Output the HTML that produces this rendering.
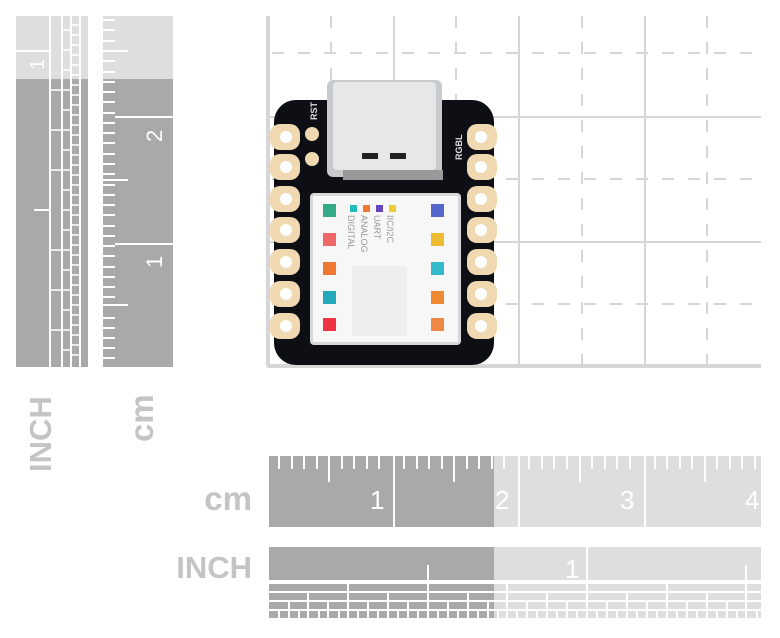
<!DOCTYPE html>
<html><head><meta charset="utf-8"><style>
html,body{margin:0;padding:0;background:#fff;width:780px;height:638px;overflow:hidden}
svg{display:block}
text{font-family:"Liberation Sans",sans-serif}
</style></head><body>
<svg width="780" height="638" viewBox="0 0 780 638" xmlns="http://www.w3.org/2000/svg">
<!-- grid -->
<g stroke="#d6d6d6" stroke-width="2" fill="none">
<line x1="394" y1="16" x2="394" y2="365"/><line x1="519" y1="16" x2="519" y2="365"/><line x1="645" y1="16" x2="645" y2="365"/>
<line x1="267" y1="117" x2="761" y2="117"/><line x1="267" y1="242" x2="761" y2="242"/>
<g stroke-dasharray="12,14">
<line x1="331" y1="16" x2="331" y2="365"/><line x1="456" y1="16" x2="456" y2="365"/><line x1="582" y1="16" x2="582" y2="365"/><line x1="707" y1="16" x2="707" y2="365"/>
<line x1="272" y1="53" x2="761" y2="53"/><line x1="272" y1="179" x2="761" y2="179"/><line x1="272" y1="304" x2="761" y2="304"/>
</g>
<line x1="268" y1="16" x2="268" y2="366" stroke-width="4"/>
<line x1="267" y1="366" x2="761" y2="366" stroke-width="4"/>
</g>
<!-- board -->
<rect x="274" y="100" width="220" height="265" rx="22" fill="#0d0f14"/>
<g fill="#f0d8b0">
<rect x="270" y="124" width="30" height="26" rx="10"/>
<rect x="270" y="154" width="30" height="26" rx="10"/><rect x="270" y="186" width="30" height="26" rx="10"/>
<rect x="270" y="217" width="30" height="26" rx="10"/><rect x="270" y="249" width="30" height="26" rx="10"/>
<rect x="270" y="281" width="30" height="26" rx="10"/><rect x="270" y="313" width="30" height="26" rx="10"/>
<rect x="467" y="124" width="30" height="26" rx="10"/><rect x="467" y="154" width="30" height="26" rx="10"/>
<rect x="467" y="186" width="30" height="26" rx="10"/><rect x="467" y="217" width="30" height="26" rx="10"/>
<rect x="467" y="249" width="30" height="26" rx="10"/><rect x="467" y="281" width="30" height="26" rx="10"/>
<rect x="467" y="313" width="30" height="26" rx="10"/>
<circle cx="312" cy="134" r="7"/><circle cx="312" cy="159" r="7"/>
</g>
<g fill="#fff">
<circle cx="286" cy="137" r="6"/><circle cx="286" cy="167" r="6"/><circle cx="286" cy="199" r="6"/><circle cx="286" cy="230" r="6"/><circle cx="286" cy="262" r="6"/><circle cx="286" cy="294" r="6"/><circle cx="286" cy="326" r="6"/>
<circle cx="481" cy="137" r="6"/><circle cx="481" cy="167" r="6"/><circle cx="481" cy="199" r="6"/><circle cx="481" cy="230" r="6"/><circle cx="481" cy="262" r="6"/><circle cx="481" cy="294" r="6"/><circle cx="481" cy="326" r="6"/>
</g>
<text transform="translate(317,120) rotate(-90)" font-size="9" fill="#ddd" font-weight="bold">RST</text>
<text transform="translate(462,160) rotate(-90)" font-size="9" fill="#ddd" font-weight="bold">RGBL</text>
<!-- usb -->
<rect x="327" y="80" width="115" height="97" rx="6" fill="#c8cacc"/>
<rect x="333" y="82" width="103" height="88" rx="4" fill="#e6e7e8"/>
<rect x="362" y="153" width="16" height="6" fill="#222"/><rect x="390" y="153" width="16" height="6" fill="#222"/>
<rect x="343" y="170" width="100" height="10" fill="#999"/>
<!-- shield -->
<rect x="310" y="193" width="151" height="152" rx="4" fill="#d8d8d8"/>
<rect x="313" y="196" width="145" height="146" fill="#f7f7f7"/>
<rect x="323" y="204" width="13" height="13" fill="#3a8"/><rect x="323" y="233" width="13" height="13" fill="#e66"/>
<rect x="323" y="262" width="13" height="13" fill="#e73"/><rect x="323" y="291" width="13" height="13" fill="#2ab"/>
<rect x="323" y="318" width="13" height="13" fill="#e34"/>
<rect x="431" y="204" width="13" height="13" fill="#56c"/><rect x="431" y="233" width="13" height="13" fill="#eb3"/>
<rect x="431" y="262" width="13" height="13" fill="#3bc"/><rect x="431" y="291" width="13" height="13" fill="#e83"/>
<rect x="431" y="318" width="13" height="13" fill="#e84"/>
<rect x="350" y="205" width="7" height="7" fill="#2bb"/><rect x="363" y="205" width="7" height="7" fill="#e73"/>
<rect x="376" y="205" width="7" height="7" fill="#64b"/><rect x="389" y="205" width="7" height="7" fill="#ec3"/>
<g font-size="9" fill="#999">
<text transform="translate(348,215) rotate(90)">DIGITAL</text>
<text transform="translate(361,215) rotate(90)">ANALOG</text>
<text transform="translate(374,215) rotate(90)">UART</text>
<text transform="translate(387,215) rotate(90)">IIC/I2C</text>
</g>
<rect x="352" y="266" width="55" height="70" fill="#eee"/>
<!-- left rulers -->
<rect x="16" y="16" width="72" height="64" fill="#dedede"/><rect x="16" y="79" width="72" height="288" fill="#a9a9a9"/>
<g stroke="#fff" stroke-width="2">
<line x1="50" y1="16" x2="50" y2="367"/><line x1="62" y1="16" x2="62" y2="367"/><line x1="71" y1="16" x2="71" y2="367"/><line x1="80" y1="16" x2="80" y2="367"/>
<line x1="16" y1="51" x2="50" y2="51"/><line x1="34" y1="210" x2="50" y2="210"/>
</g>
<g stroke="#fff" stroke-width="1.5">
<path d="M50 90H62M50 130H62M50 170H62M50 250H62M50 290H62M50 330H62"/>
<path d="M62 30H71M62 50H71M62 70H71M62 90H71M62 110H71M62 130H71M62 150H71M62 170H71M62 190H71M62 210H71M62 230H71M62 250H71M62 270H71M62 290H71M62 310H71M62 330H71M62 350H71"/>
<path d="M71 25H80M71 35H80M71 45H80M71 55H80M71 65H80M71 75H80M71 85H80M71 95H80M71 105H80M71 115H80M71 125H80M71 135H80M71 145H80M71 155H80M71 165H80M71 175H80M71 185H80M71 195H80M71 205H80M71 215H80M71 225H80M71 235H80M71 245H80M71 255H80M71 265H80M71 275H80M71 285H80M71 295H80M71 305H80M71 315H80M71 325H80M71 335H80M71 345H80M71 355H80"/>
</g>
<text transform="translate(44,70) rotate(-90)" font-size="20" fill="#fff">1</text>
<rect x="103" y="16" width="70" height="64" fill="#dedede"/><rect x="103" y="79" width="70" height="288" fill="#a9a9a9"/>
<g stroke="#fff" stroke-width="2">
<path d="M103 20H115M103 30H115M103 41H115M103 51H128M103 61H115M103 72H115M103 82H115M103 92H115M103 102H115M103 113H115M103 123H115M103 133H115M103 143H115M103 154H115M103 164H115M103 174H115M103 180H128M103 185H115M103 195H115M103 205H115M103 215H115M103 226H115M103 236H115M103 246H115M103 256H115M103 267H115M103 277H115M103 287H115M103 297H115M103 305H128M103 318H115M103 328H115M103 338H115M103 348H115M103 358H115"/>
<path d="M115 117H173M115 244H173"/>
</g>
<text transform="translate(162,142) rotate(-90)" font-size="22" fill="#fff">2</text>
<text transform="translate(162,268) rotate(-90)" font-size="22" fill="#fff">1</text>
<text transform="translate(51,472) rotate(-90)" font-size="31" font-weight="bold" fill="#c4c4c4">INCH</text>
<text transform="translate(153,442) rotate(-90)" font-size="33" font-weight="bold" fill="#c4c4c4">cm</text>
<!-- bottom cm ruler -->
<rect x="269" y="456" width="225" height="71" fill="#a9a9a9"/><rect x="494" y="456" width="267" height="71" fill="#dedede"/>
<g stroke="#fff" stroke-width="2">
<line x1="394" y1="456" x2="394" y2="527"/><line x1="519" y1="456" x2="519" y2="527"/><line x1="645" y1="456" x2="645" y2="527"/>
<path d="M279 456V469M292 456V469M304 456V469M317 456V469M329 456V482M342 456V469M354 456V469M367 456V469M379 456V469M404 456V469M417 456V469M429 456V469M442 456V469M454 456V482M467 456V469M479 456V469M492 456V469M504 456V469M529 456V469M542 456V469M554 456V469M567 456V469M580 456V482M592 456V469M605 456V469M617 456V469M630 456V469M655 456V469M667 456V469M680 456V469M692 456V469M705 456V482M717 456V469M730 456V469M742 456V469M755 456V469"/>
</g>
<g font-size="26" fill="#fff">
<text x="370" y="509">1</text><text x="495" y="509">2</text><text x="620" y="509">3</text><text x="745" y="509">4</text>
</g>
<text x="252" y="510" font-size="33" font-weight="bold" fill="#c4c4c4" text-anchor="end">cm</text>
<text x="252" y="578" font-size="31" font-weight="bold" fill="#c4c4c4" text-anchor="end">INCH</text>
<!-- bottom inch ruler -->
<rect x="269" y="547" width="225" height="33" fill="#a9a9a9"/><rect x="494" y="547" width="267" height="33" fill="#dedede"/>
<rect x="269" y="584" width="225" height="7" fill="#a9a9a9"/><rect x="494" y="584" width="267" height="7" fill="#dedede"/>
<rect x="269" y="593" width="225" height="7" fill="#a9a9a9"/><rect x="494" y="593" width="267" height="7" fill="#dedede"/>
<rect x="269" y="602" width="225" height="7" fill="#a9a9a9"/><rect x="494" y="602" width="267" height="7" fill="#dedede"/>
<rect x="269" y="611" width="225" height="7" fill="#a9a9a9"/><rect x="494" y="611" width="267" height="7" fill="#dedede"/>
<g stroke="#fff" stroke-width="2">
<line x1="587" y1="547" x2="587" y2="620"/><line x1="428" y1="565" x2="428" y2="620"/><line x1="746" y1="565" x2="746" y2="620"/>
<path d="M348 584V620M507 584V620M667 584V620"/>
<path d="M308 593V620M388 593V620M468 593V620M547 593V620M627 593V620M707 593V620"/>
<path d="M289 602V620M328 602V620M368 602V620M408 602V620M448 602V620M488 602V620M527 602V620M567 602V620M607 602V620M647 602V620M687 602V620M727 602V620"/>
<path d="M279 611V620M299 611V620M319 611V620M339 611V620M358 611V620M378 611V620M398 611V620M418 611V620M438 611V620M458 611V620M478 611V620M498 611V620M517 611V620M537 611V620M557 611V620M577 611V620M597 611V620M617 611V620M637 611V620M657 611V620M677 611V620M697 611V620M717 611V620M737 611V620M757 611V620"/>
</g>
<text x="565" y="578" font-size="26" fill="#fff">1</text>
</svg>
</body></html>
